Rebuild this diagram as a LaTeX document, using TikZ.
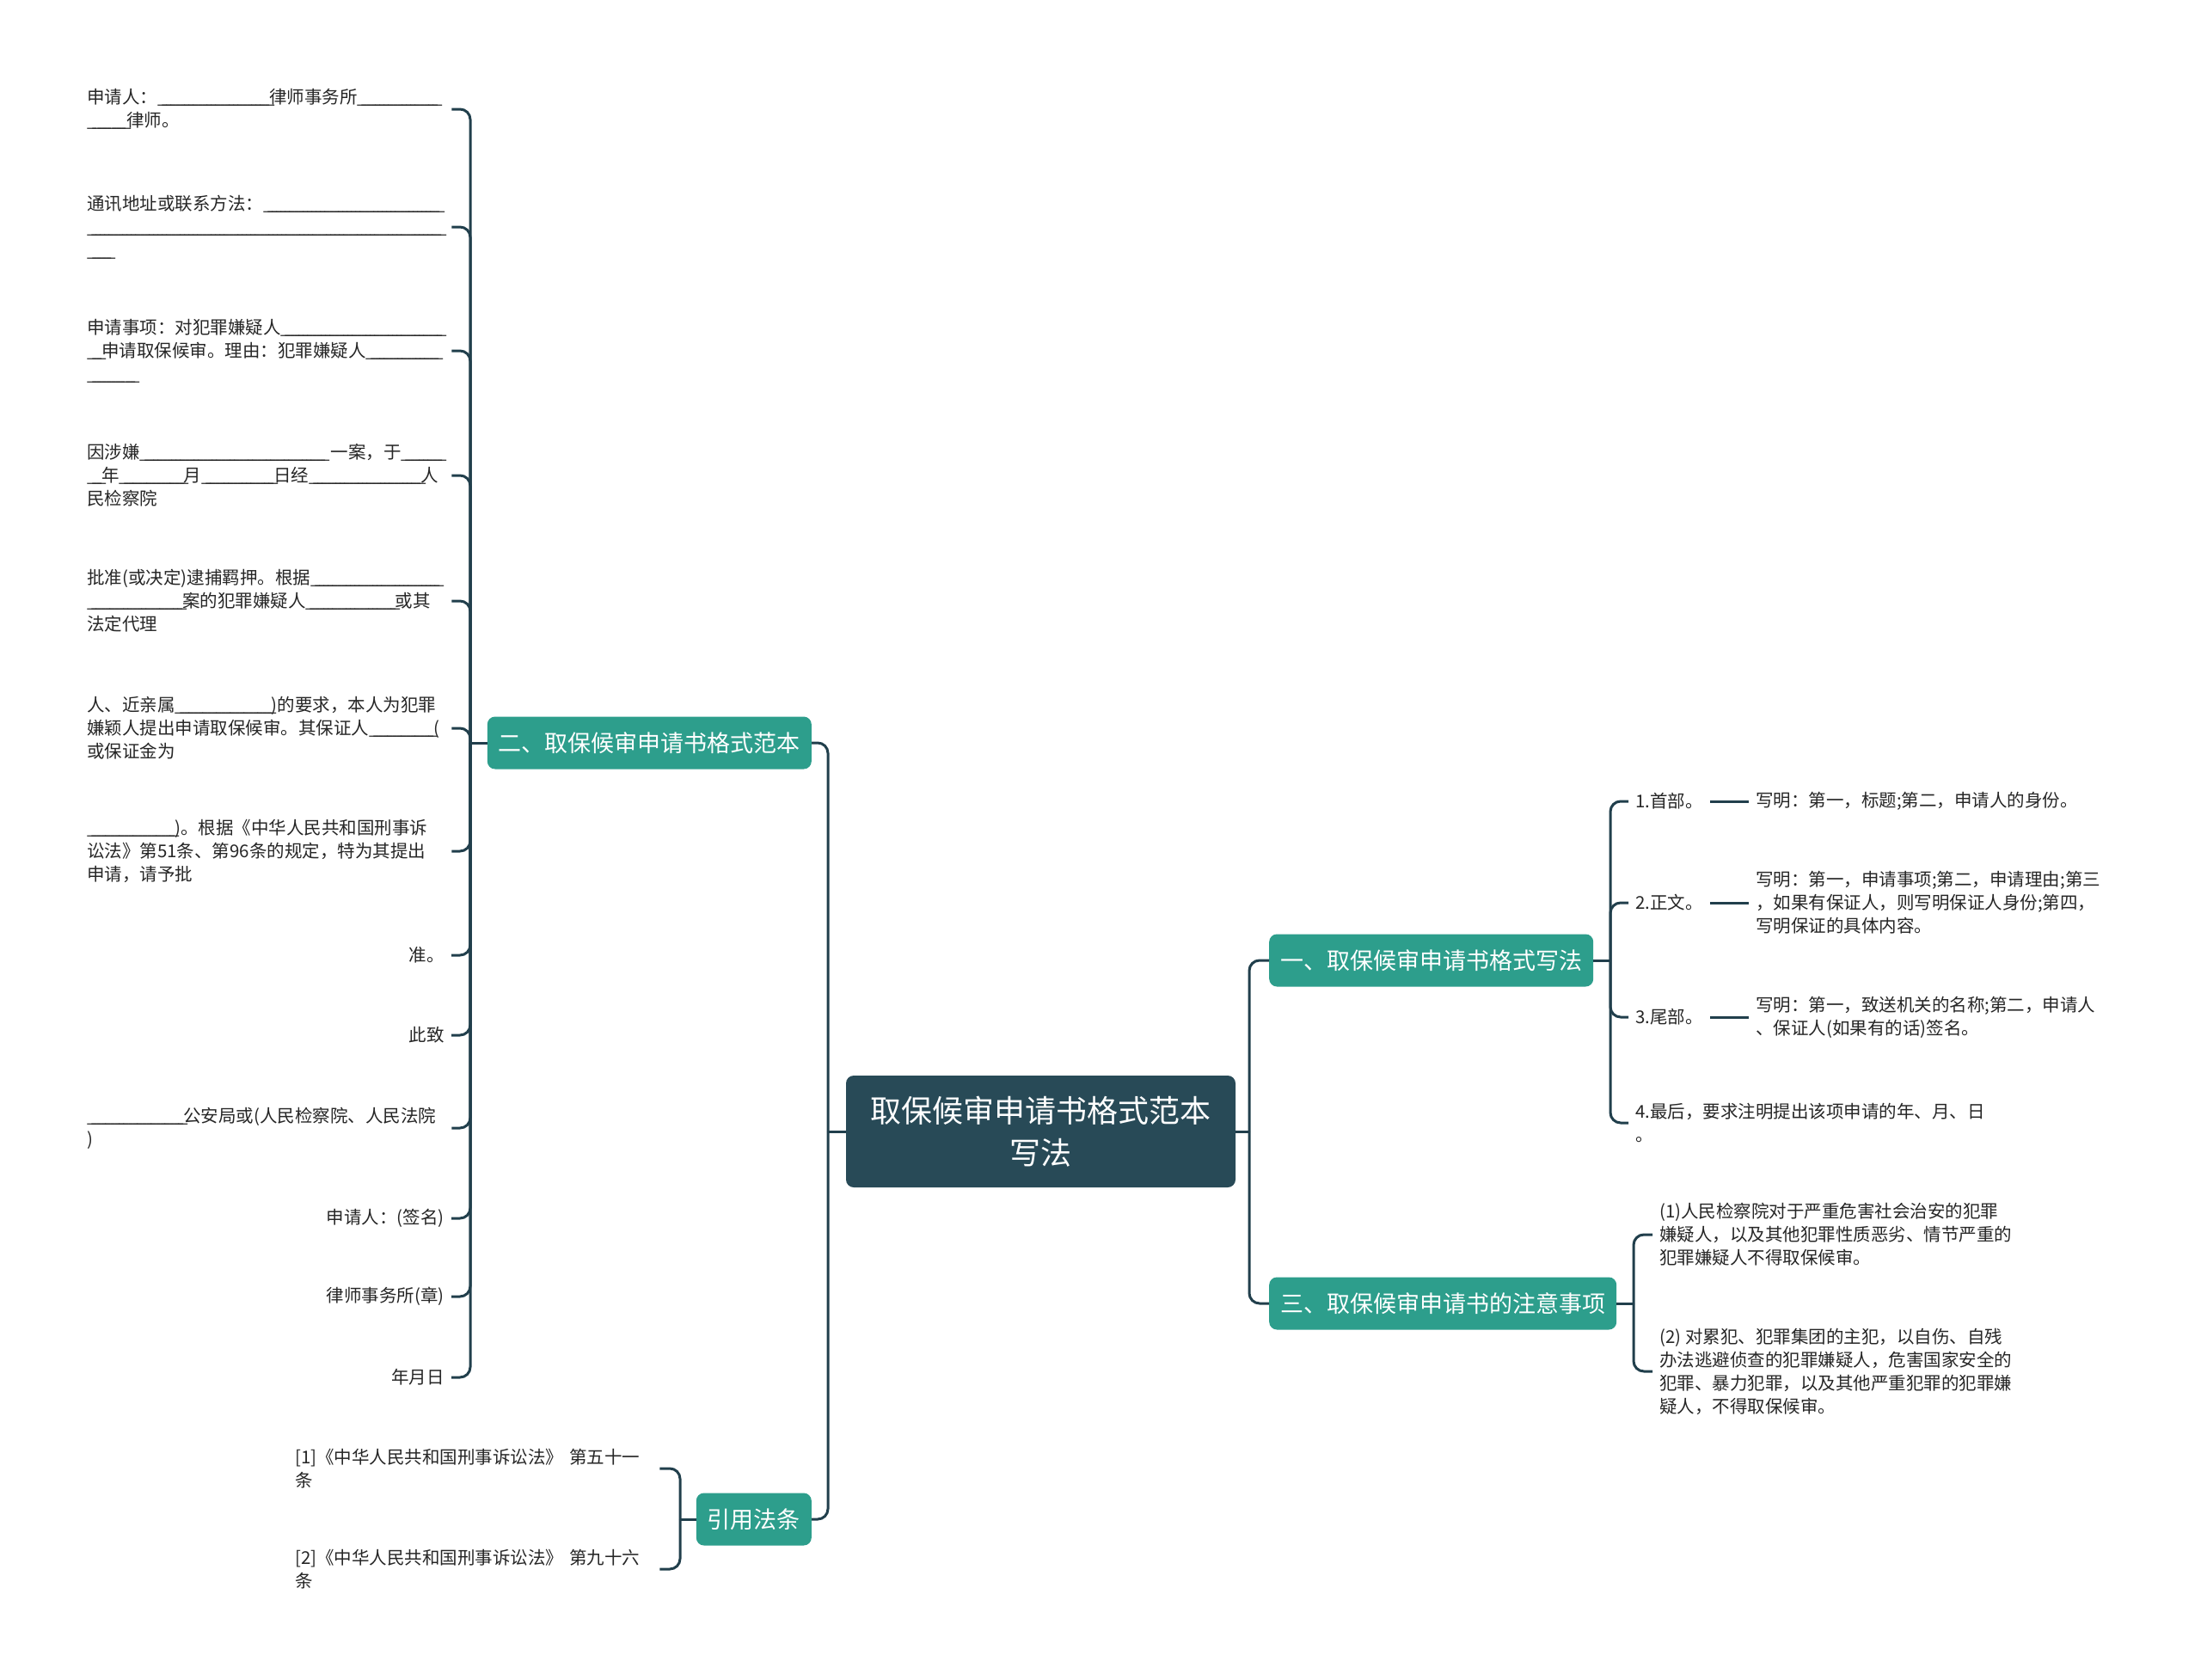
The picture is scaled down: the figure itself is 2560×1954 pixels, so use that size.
\documentclass[tikz,border=0pt]{standalone}
\usepackage{fontspec}
\setmainfont{Noto Sans CJK SC}
\usetikzlibrary{calc}
\definecolor{rootc}{HTML}{284A57}
\definecolor{brc}{HTML}{2D9E8C}
\definecolor{linec}{HTML}{213F4C}
\definecolor{txtc}{HTML}{262626}
\newcommand\blank[1]{\mbox{\xleaders\hbox to 0.25em{\_\hss}\hskip#1pt\relax}}
\tikzset{
  conn/.style={draw=linec, line width=3pt, rounded corners=12pt},
  rootbox/.style={fill=rootc, text=white, rounded corners=9pt, minimum width=453pt, minimum height=130pt, align=center, font=\fontsize{36}{49}\selectfont, inner sep=0pt},
  brbox/.style={fill=brc, text=white, rounded corners=9pt, minimum height=61pt, inner xsep=13pt, inner ysep=0pt, font=\fontsize{27}{34}\selectfont},
  leaf/.style={text=txtc, font=\fontsize{20.5}{27}\selectfont, inner xsep=8pt, inner ysep=2pt, align=left},
  leafw/.style={leaf, text width=416pt},
}
\begin{document}
\begin{tikzpicture}[x=1pt,y=-1pt]
\useasboundingbox (0,0) rectangle (2560,1954);
\fill[white] (0,0) rectangle (2560,1954);
% spine coordinates
\coordinate (sR0) at (963,0);
\coordinate (sR1) at (1453,0);
\coordinate (sL) at (547,0);
\coordinate (sY) at (791,0);
\coordinate (s1) at (1873,0);
\coordinate (s3) at (1900,0);
% root and branches
\node[rootbox] (root) at (1210.5,1316) {取保候审申请书格式范本\\写法};
\node[brbox, anchor=east] (b2) at (944,864) {二、取保候审申请书格式范本};
\node[brbox, anchor=east] (by) at (944,1767) {引用法条};
\node[brbox, anchor=west] (b1) at (1476,1117) {一、取保候审申请书格式写法};
\node[brbox, anchor=west] (b3) at (1476,1516) {三、取保候审申请书的注意事项};
% left items
\node[leafw, anchor=west] (L1) at (93,127) {申请人：\blank{130}律师事务所\blank{93}\\\blank{46}律师。};
\node[leafw, anchor=west] (L2) at (93,264) {通讯地址或联系方法：\blank{205}\\\blank{412}\\\blank{28}};
\node[leafw, anchor=west] (L3) at (93,408) {申请事项：对犯罪嫌疑人\blank{187}\\\blank{17}申请取保候审。理由：犯罪嫌疑人\blank{84}\\\blank{56}};
\node[leafw, anchor=west] (L4) at (93,553) {因涉嫌\blank{215} 一案，于\blank{47}\\\blank{17}年\blank{75}月\blank{84}日经\blank{130}人\\民检察院};
\node[leafw, anchor=west] (L5) at (93,699) {批准(或决定)逮捕羁押。根据\blank{150}\\\blank{111}案的犯罪嫌疑人\blank{104}或其\\法定代理};
\node[leafw, anchor=west] (L6) at (93,847) {人、近亲属\blank{112})的要求，本人为犯罪\\嫌颖人提出申请取保候审。其保证人\blank{75}(\\或保证金为};
\node[leafw, anchor=west] (L7) at (93,990) {\blank{102})。根据《中华人民共和国刑事诉\\讼法》第51条、第96条的规定，特为其提出\\申请，请予批};
\node[leaf, anchor=east] (L8) at (525,1111) {准。};
\node[leaf, anchor=east] (L9) at (525,1204) {此致};
\node[leafw, anchor=west] (L10) at (93,1312) {\blank{112}公安局或(人民检察院、人民法院\\)};
\node[leaf, anchor=east] (L11) at (525,1417) {申请人：(签名)};
\node[leaf, anchor=east] (L12) at (525,1508) {律师事务所(章)};
\node[leaf, anchor=east] (L13) at (525,1602) {年月日};
% citation items
\node[leafw, anchor=west] (Y1) at (335,1708) {[1]《中华人民共和国刑事诉讼法》 第五十一\\条};
\node[leafw, anchor=west] (Y2) at (335,1825) {[2]《中华人民共和国刑事诉讼法》 第九十六\\条};
% branch one items
\node[leaf, anchor=west] (C1) at (1894,932) {1.首部。};
\node[leaf, anchor=west] (C2) at (1894,1050) {2.正文。};
\node[leaf, anchor=west] (C3) at (1894,1183) {3.尾部。};
\node[leaf, anchor=west] (C4) at (1894,1306) {4.最后，要求注明提出该项申请的年、月、日\\。};
\node[leaf, anchor=west] (D1) at (2034,932) {写明：第一，标题;第二，申请人的身份。};
\node[leaf, anchor=west] (D2) at (2034,1050) {写明：第一，申请事项;第二，申请理由;第三\\，如果有保证人，则写明保证人身份;第四，\\写明保证的具体内容。};
\node[leaf, anchor=west] (D3) at (2034,1183) {写明：第一，致送机关的名称;第二，申请人\\、保证人(如果有的话)签名。};
% branch three items
\node[leaf, anchor=west] (T1) at (1922,1436) {(1)人民检察院对于严重危害社会治安的犯罪\\嫌疑人，以及其他犯罪性质恶劣、情节严重的\\犯罪嫌疑人不得取保候审。};
\node[leaf, anchor=west] (T2) at (1922,1595) {(2) 对累犯、犯罪集团的主犯，以自伤、自残\\办法逃避侦查的犯罪嫌疑人，危害国家安全的\\犯罪、暴力犯罪，以及其他严重犯罪的犯罪嫌\\疑人，不得取保候审。};
% connectors root
\draw[conn] (root.west) -- (root.west -| sR0);
\draw[conn] (root.west -| sR0) |- (b2.east);
\draw[conn] (root.west -| sR0) |- (by.east);
\draw[conn] (root.east) -- (root.east -| sR1);
\draw[conn] (root.east -| sR1) |- (b1.west);
\draw[conn] (root.east -| sR1) |- (b3.west);
% connectors left
\draw[conn] (b2.west) -- (b2.west -| sL);
\foreach \n in {L1,L2,L3,L4,L5,L6,L7,L8,L9,L10,L11,L12,L13}
  \draw[conn] (b2.west -| sL) |- (\n.east);
% connectors citation
\draw[conn] (by.west) -- (by.west -| sY);
\draw[conn] (by.west -| sY) |- (Y1.east);
\draw[conn] (by.west -| sY) |- (Y2.east);
% connectors branch one
\draw[conn] (b1.east) -- (b1.east -| s1);
\foreach \n in {C1,C2,C3,C4}
  \draw[conn] (b1.east -| s1) |- (\n.west);
\draw[conn] (C1.east) -- (D1.west);
\draw[conn] (C2.east) -- (D2.west);
\draw[conn] (C3.east) -- (D3.west);
% connectors branch three
\draw[conn] (b3.east) -- (b3.east -| s3);
\draw[conn] (b3.east -| s3) |- (T1.west);
\draw[conn] (b3.east -| s3) |- (T2.west);
\end{tikzpicture}
\end{document}
